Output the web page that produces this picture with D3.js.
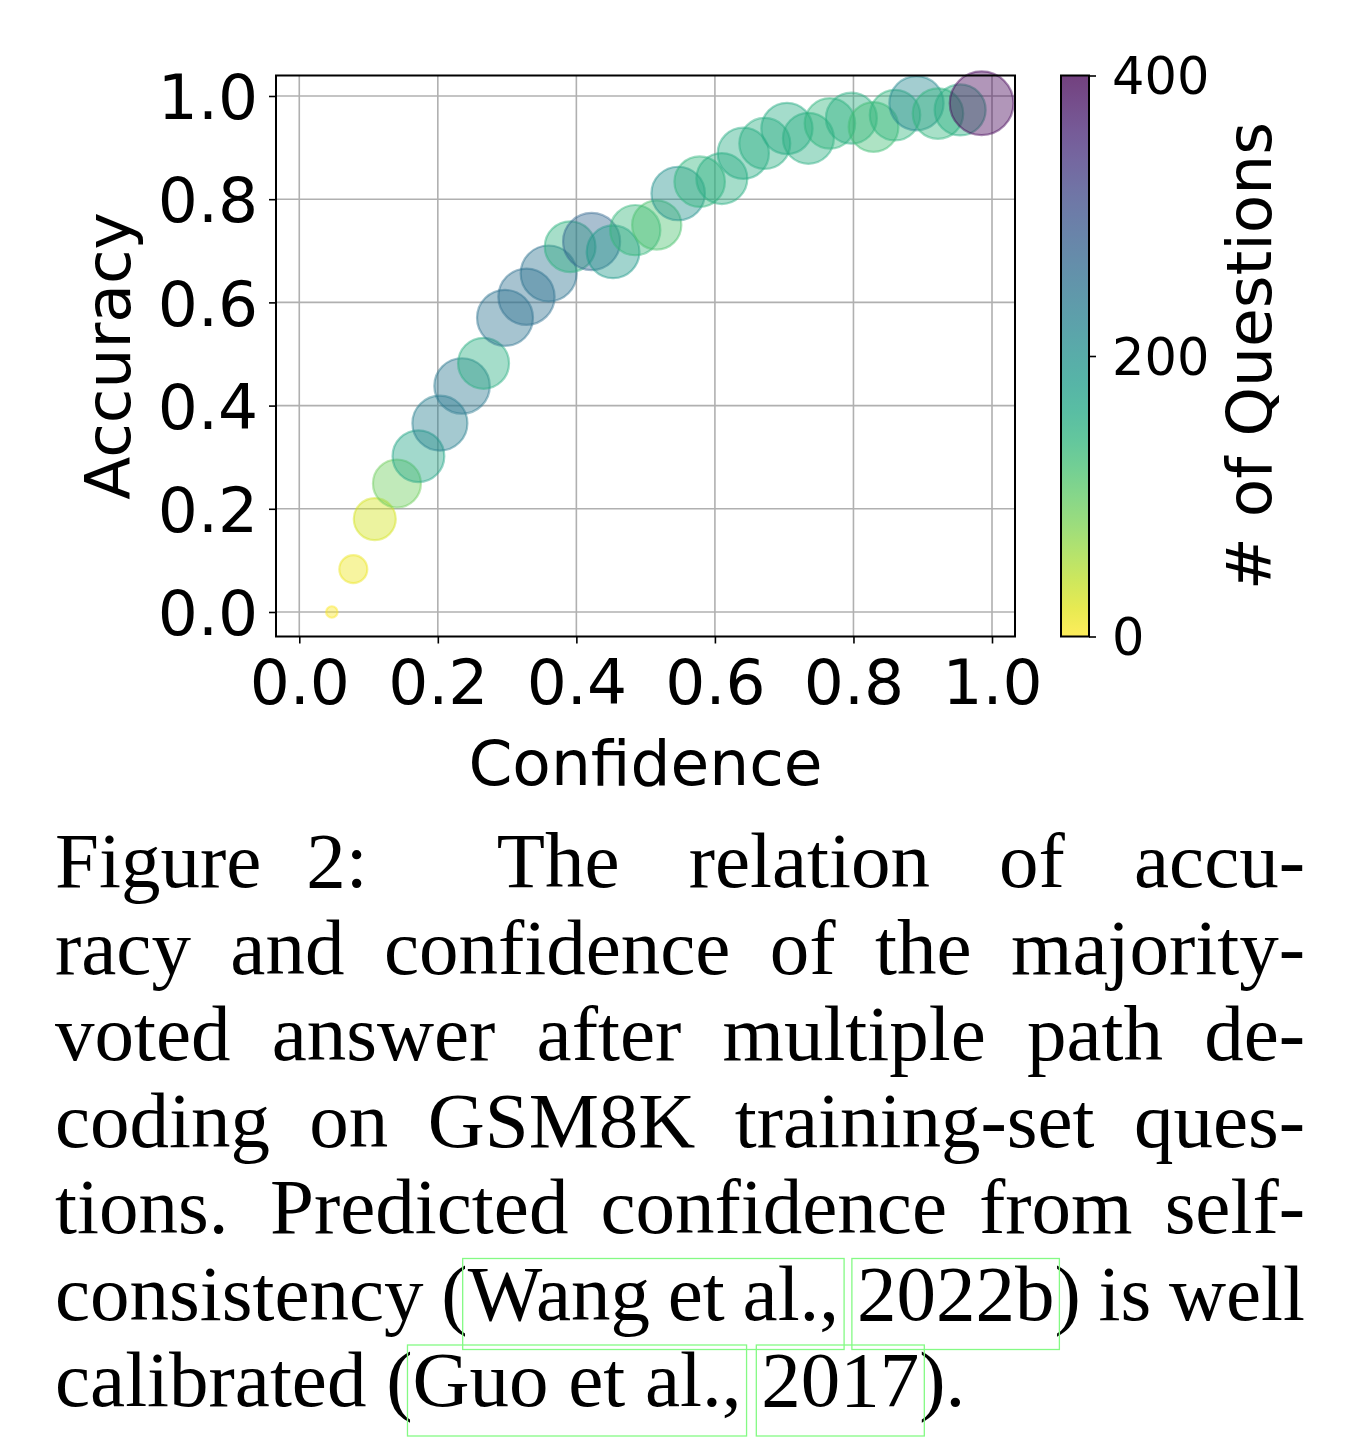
<!DOCTYPE html>
<html>
<head>
<meta charset="utf-8">
<script src="https://cdn.jsdelivr.net/npm/d3@7"></script>
<style>
  html, body { margin: 0; padding: 0; background: #fff; }
  svg { display: block; }
</style>
</head>
<body>
<svg id="chart" width="1364" height="1454"></svg>
<script>
// ---------------- data ----------------
const confidence = [0.047, 0.078, 0.109, 0.141, 0.172, 0.203, 0.235, 0.266, 0.297, 0.328, 0.360,
  0.391, 0.422, 0.453, 0.485, 0.516, 0.547, 0.578, 0.610, 0.641, 0.672, 0.704, 0.735, 0.766,
  0.797, 0.829, 0.860, 0.891, 0.922, 0.954, 0.985];
const accuracy = [0.000, 0.083, 0.180, 0.249, 0.302, 0.366, 0.438, 0.482, 0.570, 0.611, 0.656,
  0.708, 0.718, 0.698, 0.740, 0.750, 0.811, 0.834, 0.840, 0.889, 0.908, 0.937, 0.918, 0.947,
  0.957, 0.940, 0.963, 0.986, 0.966, 0.973, 0.986];
const numQuestions = [3, 12, 28, 90, 165, 230, 240, 150, 250, 255, 250,
  145, 270, 185, 135, 115, 200, 140, 150, 155, 150, 155, 150, 140,
  150, 125, 140, 215, 140, 150, 395];

const xTicks = [0.0, 0.2, 0.4, 0.6, 0.8, 1.0];
const yTicks = [0.0, 0.2, 0.4, 0.6, 0.8, 1.0];
const cbTicks = [0, 200, 400];
const xLabel = "Confidence";
const yLabel = "Accuracy";
const cbLabel = "# of Questions";

const captionLines = [
  ["Figure", "2:", "The", "relation", "of", "accu-"],
  ["racy", "and", "confidence", "of", "the", "majority-"],
  ["voted", "answer", "after", "multiple", "path", "de-"],
  ["coding", "on", "GSM8K", "training-set", "ques-"],
  ["tions.", "Predicted", "confidence", "from", "self-"],
  ["consistency", "(Wang", "et", "al.,", "2022b)", "is", "well"],
  ["calibrated", "(Guo", "et", "al.,", "2017)."]
];
const gapWeights = [
  [0.65, 1.87, 1, 1, 1],
  null, null, null,
  [1.3, 1, 1, 1],
  null, null
];

// ---------------- layout ----------------
const svg = d3.select("#chart");
const plot = { left: 276, right: 1015, top: 75.5, bottom: 636.5 };
const cb = { left: 1061, right: 1089, top: 75.5, bottom: 636.5 };
const chartFont = "DejaVu Sans, sans-serif";

const x = d3.scaleLinear().domain([-0.0336, 1.0332]).range([plot.left, plot.right]);
const y = d3.scaleLinear().domain([-0.0475, 1.0397]).range([plot.bottom, plot.top]);
const cScale = d3.scaleLinear().domain([0, 400]).range([cb.bottom, cb.top]);
const color = c => d3.interpolateViridis(1 - Math.min(1, c / 400));
const radius = d3.scaleLinear().domain([0, 12, 28, 90, 150, 250, 400]).range([3, 14, 21, 24, 25.5, 28, 32]);

// grid
const grid = svg.append("g");
grid.selectAll("line.vx").data(xTicks).join("line")
  .attr("x1", d => x(d)).attr("x2", d => x(d))
  .attr("y1", plot.top).attr("y2", plot.bottom)
  .attr("stroke", "#b0b0b0").attr("stroke-width", 1.6);
grid.selectAll("line.hy").data(yTicks).join("line")
  .attr("y1", d => y(d)).attr("y2", d => y(d))
  .attr("x1", plot.left).attr("x2", plot.right)
  .attr("stroke", "#b0b0b0").attr("stroke-width", 1.6);

// points
const pts = confidence.map((c, i) => ({ c, a: accuracy[i], n: numQuestions[i] }));
svg.append("g").selectAll("circle").data(pts).join("circle")
  .attr("cx", d => x(d.c)).attr("cy", d => y(d.a))
  .attr("r", d => radius(d.n))
  .attr("fill", d => color(d.n)).attr("fill-opacity", 0.42)
  .attr("stroke", d => color(d.n)).attr("stroke-opacity", 0.45)
  .attr("stroke-width", 2.2);

// axes
const xAxis = d3.axisBottom(x).tickValues(xTicks).tickFormat(d3.format(".1f")).tickSize(7).tickPadding(13);
const yAxis = d3.axisLeft(y).tickValues(yTicks).tickFormat(d3.format(".1f")).tickSize(7).tickPadding(11);
const gx = svg.append("g").attr("transform", `translate(0,${plot.bottom})`).call(xAxis);
const gy = svg.append("g").attr("transform", `translate(${plot.left},0)`).call(yAxis);
[gx, gy].forEach(g => {
  g.select(".domain").remove();
  g.selectAll(".tick line").attr("stroke", "#000").attr("stroke-width", 1.6);
  g.selectAll(".tick text").attr("fill", "#000").attr("font-family", chartFont).attr("font-size", 63);
});
gx.selectAll(".tick text").attr("dy", "0.75em");
gy.selectAll(".tick text").attr("dy", "0.36em");

// frame
svg.append("rect").attr("x", plot.left).attr("y", plot.top)
  .attr("width", plot.right - plot.left).attr("height", plot.bottom - plot.top)
  .attr("fill", "none").attr("stroke", "#000").attr("stroke-width", 2);

// axis labels
svg.append("text").attr("x", (plot.left + plot.right) / 2).attr("y", 785)
  .attr("text-anchor", "middle").attr("font-family", chartFont).attr("font-size", 63)
  .text(xLabel);
svg.append("text").attr("transform", `translate(130,${(plot.top + plot.bottom) / 2}) rotate(-90)`)
  .attr("text-anchor", "middle").attr("font-family", chartFont).attr("font-size", 63)
  .text(yLabel);

// colorbar
const defs = svg.append("defs");
const grad = defs.append("linearGradient").attr("id", "cbgrad")
  .attr("x1", 0).attr("y1", 1).attr("x2", 0).attr("y2", 0);
d3.range(0, 1.0001, 0.05).forEach(t => {
  grad.append("stop").attr("offset", t).attr("stop-color", color(t * 400));
});
svg.append("rect").attr("x", cb.left).attr("y", cb.top)
  .attr("width", cb.right - cb.left).attr("height", cb.bottom - cb.top)
  .attr("fill", "url(#cbgrad)").attr("fill-opacity", 0.75);
svg.append("rect").attr("x", cb.left).attr("y", cb.top)
  .attr("width", cb.right - cb.left).attr("height", cb.bottom - cb.top)
  .attr("fill", "none").attr("stroke", "#000").attr("stroke-width", 2);
const cbAxis = d3.axisRight(cScale).tickValues(cbTicks).tickFormat(d3.format("d")).tickSize(7).tickPadding(16);
const gcb = svg.append("g").attr("transform", `translate(${cb.right},0)`).call(cbAxis);
gcb.select(".domain").remove();
gcb.selectAll(".tick line").attr("stroke", "#000").attr("stroke-width", 1.6);
gcb.selectAll(".tick text").attr("fill", "#000").attr("font-family", chartFont).attr("font-size", 51).attr("dy", "0.36em");
svg.append("text").attr("transform", `translate(1271,${(cb.top + cb.bottom) / 2}) rotate(-90)`)
  .attr("text-anchor", "middle").attr("font-family", chartFont).attr("font-size", 63)
  .text(cbLabel);

// ---------------- caption ----------------
const capLeft = 55, capRight = 1305, capBase = 887, capStep = 86.5, capSize = 79;
const capFont = "Liberation Serif, Times New Roman, serif";
const capG = svg.append("g").attr("font-family", capFont).attr("font-size", capSize).attr("fill", "#000");
const wordEls = [];
captionLines.forEach((words, li) => {
  const yb = capBase + li * capStep;
  const els = words.map(w => capG.append("text").attr("y", yb).text(w));
  const widths = els.map(e => e.node().getComputedTextLength());
  const total = d3.sum(widths);
  const last = li === captionLines.length - 1;
  const weights = gapWeights[li] || words.slice(1).map(() => 1);
  const wsum = d3.sum(weights);
  const free = capRight - capLeft - total;
  let cx = capLeft;
  els.forEach((e, i) => {
    e.attr("x", cx);
    if (i < els.length - 1) {
      cx += widths[i] + (last ? 0.25 * capSize : free * weights[i] / wsum);
    }
  });
  wordEls.push(els.map((e, i) => ({ el: e.node(), x: +e.attr("x"), w: widths[i] })));
});

// citation link boxes
const cites = [
  { line: 5, from: [1, 1], to: [3, null] },
  { line: 5, from: [4, 0], to: [4, 5] },
  { line: 6, from: [1, 1], to: [3, null] },
  { line: 6, from: [4, 0], to: [4, 4] }
];
cites.forEach(c => {
  const L = wordEls[c.line];
  const a = L[c.from[0]], b = L[c.to[0]];
  const x0 = a.x + (c.from[1] > 0 ? a.el.getSubStringLength(0, c.from[1]) : 0) - 5;
  const x1 = b.x + (c.to[1] == null ? b.w : b.el.getSubStringLength(0, c.to[1])) + 5;
  const yb = capBase + c.line * capStep;
  svg.append("rect").attr("x", x0).attr("y", yb - 61)
    .attr("width", x1 - x0).attr("height", 91)
    .attr("fill", "none").attr("stroke", "#84fa84").attr("stroke-width", 1.3);
});
</script>
</body>
</html>
